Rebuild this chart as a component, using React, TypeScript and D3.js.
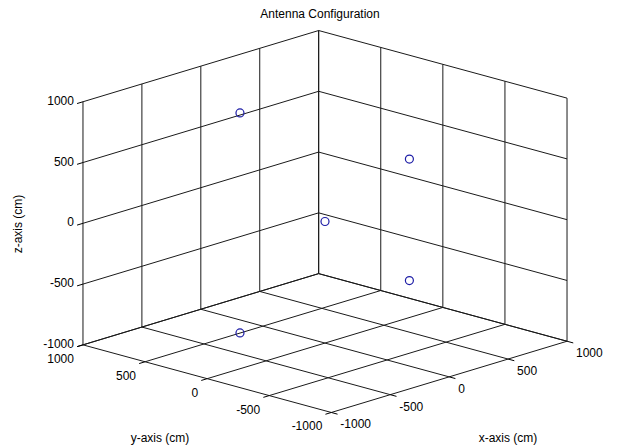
import React from "react";
import * as d3 from "d3";

// ---- Data ----
const xTicks = [-1000, -500, 0, 500, 1000];
const yTicks = [-1000, -500, 0, 500, 1000];
const zTicks = [-1000, -500, 0, 500, 1000];
const antennaX = [0, 400, 400, -300, -300];
const antennaY = [0, -300, -300, 400, 400];
const antennaZ = [0, 480, -520, 870, -940];

const W = 628;
const H = 448;

// View (MATLAB-like azimuth / elevation)
const AZ = (-46.5 * Math.PI) / 180;
const EL = (22 * Math.PI) / 180;
const CX = 325;
const CY = 221.5;
const KH = 171.2;
const KV = 131.1;

const nx = d3.scaleLinear().domain([-1000, 1000]).range([-1, 1]);
const ny = d3.scaleLinear().domain([-1000, 1000]).range([-1, 1]);
const nz = d3.scaleLinear().domain([-1000, 1000]).range([-1, 1]);
const sx = d3.scaleLinear().domain([-1, 1]).range([CX - KH, CX + KH]);
const sy = d3.scaleLinear().domain([-1, 1]).range([CY + KV, CY - KV]);

function projN(X: number, Y: number, Z: number): [number, number] {
  const h = X * Math.cos(AZ) + Y * Math.sin(AZ);
  const v =
    -X * Math.sin(AZ) * Math.sin(EL) +
    Y * Math.cos(AZ) * Math.sin(EL) +
    Z * Math.cos(EL);
  return [sx(h), sy(v)];
}
function proj(x: number, y: number, z: number): [number, number] {
  return projN(nx(x), ny(y), nz(z));
}

const FONT = "'Liberation Sans', Arial, Helvetica, sans-serif";
const GRID = "#1a1a1a";
const TL = 50; // tick length in data units

export default function App() {
  const lo = -1000;
  const hi = 1000;
  const lines: [number, number, number, number, number, number][] = [];
  // right wall x = hi
  yTicks.forEach((y) => lines.push([hi, y, lo, hi, y, hi]));
  zTicks.forEach((z) => lines.push([hi, lo, z, hi, hi, z]));
  // left wall y = hi
  xTicks.forEach((x) => lines.push([x, hi, lo, x, hi, hi]));
  zTicks.forEach((z) => lines.push([lo, hi, z, hi, hi, z]));
  // floor z = lo
  xTicks.forEach((x) => lines.push([x, lo, lo, x, hi, lo]));
  yTicks.forEach((y) => lines.push([lo, y, lo, hi, y, lo]));

  const ticks: [number, number, number, number, number, number][] = [];
  zTicks.forEach((z) => ticks.push([lo, hi, z, lo - TL, hi, z]));
  xTicks.forEach((x) => ticks.push([x, lo, lo, x, lo - TL, lo]));
  yTicks.forEach((y) => ticks.push([lo, y, lo, lo - TL, y, lo]));

  const line = d3.line();

  return (
    <svg
      width={W}
      height={H}
      style={{ position: "absolute", left: 0, top: 0, background: "#fff" }}
      fontFamily={FONT}
    >
      <rect width={W} height={H} fill="#fff" />
      <g stroke={GRID} strokeWidth={1} fill="none">
        {lines.map((l, i) => (
          <path
            key={"g" + i}
            d={line([proj(l[0], l[1], l[2]), proj(l[3], l[4], l[5])]) || ""}
          />
        ))}
        {ticks.map((l, i) => (
          <path
            key={"t" + i}
            stroke="#000"
            d={line([proj(l[0], l[1], l[2]), proj(l[3], l[4], l[5])]) || ""}
          />
        ))}
      </g>
      {/* z tick labels */}
      {zTicks.map((z) => {
        const [px, py] = proj(lo, hi, z);
        return (
          <text
            key={"zl" + z}
            x={px - 9}
            y={py - 1}
            textAnchor="end"
            dominantBaseline="central"
            fontSize={12}
            fill="#000"
          >
            {z}
          </text>
        );
      })}
      {/* y tick labels */}
      {yTicks.map((y) => {
        const [px, py] = proj(lo, y, lo);
        return (
          <text
            key={"yl" + y}
            x={px - 9}
            y={py + 14}
            textAnchor="end"
            dominantBaseline="central"
            fontSize={12}
            fill="#000"
          >
            {y}
          </text>
        );
      })}
      {/* x tick labels */}
      {xTicks.map((x) => {
        const [px, py] = proj(x, lo, lo);
        return (
          <text
            key={"xl" + x}
            x={px + 9}
            y={py + 12}
            textAnchor="start"
            dominantBaseline="central"
            fontSize={12}
            fill="#000"
          >
            {x}
          </text>
        );
      })}
      {/* data */}
      {antennaX.map((x, i) => {
        const [px, py] = proj(x, antennaY[i], antennaZ[i]);
        return (
          <circle
            key={"p" + i}
            cx={px}
            cy={py}
            r={4}
            fill="none"
            stroke="#1c1ca6"
            strokeWidth={1.2}
          />
        );
      })}
      <text x={320} y={14} textAnchor="middle" dominantBaseline="central" fontSize={12} fill="#000">
        Antenna Configuration
      </text>
      <text x={160} y={438} textAnchor="middle" dominantBaseline="central" fontSize={12} fill="#000">
        y-axis (cm)
      </text>
      <text x={508} y={438} textAnchor="middle" dominantBaseline="central" fontSize={12} fill="#000">
        x-axis (cm)
      </text>
      <text
        transform="translate(18,224) rotate(-90)"
        textAnchor="middle"
        dominantBaseline="central"
        fontSize={12}
        fill="#000"
      >
        z-axis (cm)
      </text>
    </svg>
  );
}
